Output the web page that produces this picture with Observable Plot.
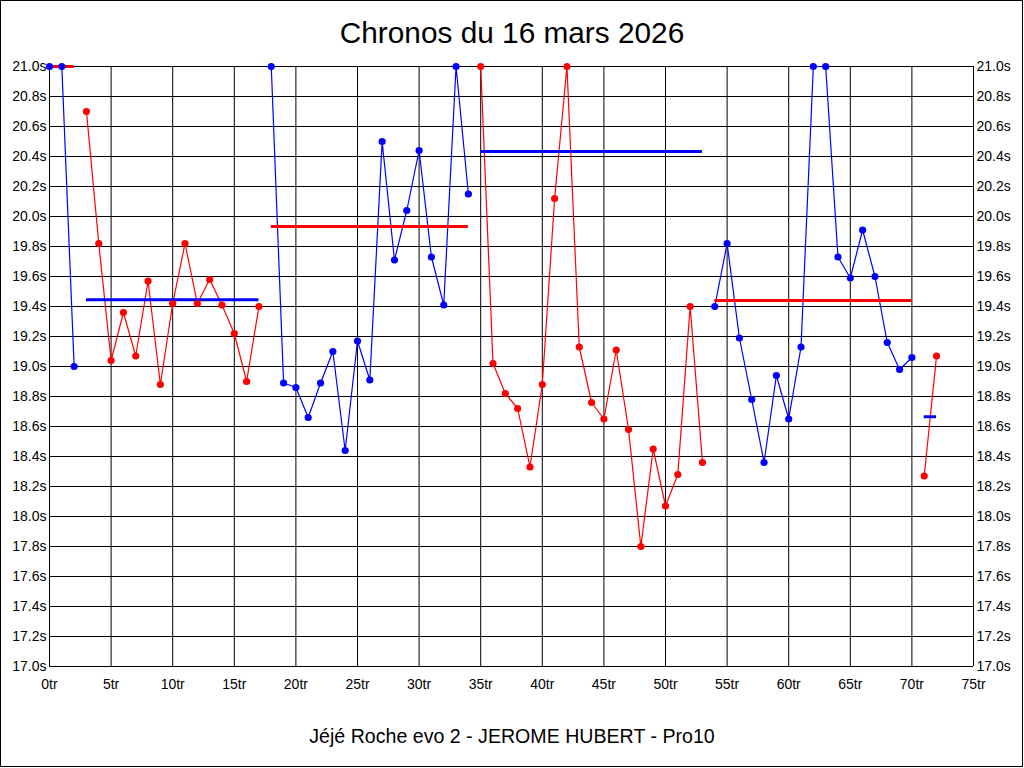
<!DOCTYPE html>
<html><head><meta charset="utf-8">
<script src="https://cdn.jsdelivr.net/npm/d3@7"></script>
<script src="https://cdn.jsdelivr.net/npm/@observablehq/plot@0.6"></script>
<style>
body{margin:0;background:#fff;font-family:"Liberation Sans",Arial,sans-serif;}
#wrap{position:relative;width:1024px;height:768px;overflow:hidden;background:#fff}
#frame{position:absolute;left:0;top:0;width:1023px;height:767px;box-sizing:border-box;border:1px solid #000;pointer-events:none}
#title{height:50px;box-sizing:border-box;padding-top:18px;line-height:30px;font-size:29.8px;text-align:center;color:#000}
#sub{height:48px;box-sizing:border-box;padding-top:6px;line-height:20px;font-size:19.6px;text-align:center;color:#000}
#chart svg{display:block}
</style></head>
<body><div id="wrap"><div id="title">Chronos du 16 mars 2026</div><div id="chart"></div><div id="sub">Jéjé Roche evo 2 - JEROME HUBERT - Pro10</div><div id="frame"></div></div>
<script>
// Lap times (s), lap 0..72
const lapTimes = [
  21.0, 21.0, 19.0,
  20.70, 19.82, 19.04, 19.36, 19.07, 19.57, 18.88, 19.42, 19.82, 19.42, 19.58, 19.41, 19.22, 18.90, 19.40,
  21.0, 18.89, 18.86, 18.66, 18.89, 19.10, 18.44, 19.17, 18.91, 20.50, 19.71, 20.04, 20.44, 19.73, 19.41, 21.0, 20.15,
  21.0, 19.02, 18.82, 18.72, 18.33, 18.88, 20.12, 21.0, 19.13, 18.76, 18.65, 19.11, 18.58, 17.80, 18.45, 18.07, 18.28, 19.40, 18.36,
  19.40, 19.82, 19.19, 18.78, 18.36, 18.94, 18.65, 19.13, 21.0, 21.0, 19.73, 19.59, 19.91, 19.60, 19.16, 18.98, 19.06,
  18.27, 19.07
];
// Stints (first lap, last lap, mean time)
const stintStart = [0, 3, 18, 35, 54, 71];
const stintEnd   = [2, 17, 34, 53, 70, 72];
const stintMean  = [21.0, 19.445, 19.933, 20.433, 19.44, 18.665];
// Axis ticks
const xTicks = [0, 5, 10, 15, 20, 25, 30, 35, 40, 45, 50, 55, 60, 65, 70, 75];
const yTicks = [17.0, 17.2, 17.4, 17.6, 17.8, 18.0, 18.2, 18.4, 18.6, 18.8, 19.0, 19.2, 19.4, 19.6, 19.8, 20.0, 20.2, 20.4, 20.6, 20.8, 21.0];

const palette = ["#0000ff", "#ff0000"];

const stints = stintStart.map((s, i) => ({stint: i, start: s, end: stintEnd[i], mean: stintMean[i]}));
const rows = lapTimes.map((t, lap) => ({
  lap, time: t,
  stint: stints.findIndex(s => lap >= s.start && lap <= s.end)
}));

const fontFamily = "'Liberation Sans', Arial, sans-serif";
const chart = Plot.plot({
  width: 1024, height: 670,
  marginLeft: 49, marginRight: 51, marginTop: 16, marginBottom: 54,
  style: {fontFamily, fontSize: "14px", background: "white", color: "black", overflow: "visible"},
  x: {domain: [0, 75]},
  y: {domain: [17, 21]},
  color: {type: "identity"},
  marks: [
    Plot.ruleX(xTicks, {stroke: "black", strokeWidth: 1}),
    Plot.ruleY(yTicks, {stroke: "black", strokeWidth: 1}),
    Plot.axisX({ticks: xTicks, tickSize: 0, tickPadding: 13, tickFormat: d => d + "tr", label: null, fontSize: 14, fill: "black"}),
    Plot.axisY({anchor: "left", ticks: yTicks, tickSize: 0, tickPadding: 3, tickFormat: d => d.toFixed(1) + "s", label: null, fontSize: 14, fill: "black"}),
    Plot.axisY({anchor: "right", ticks: yTicks, tickSize: 0, tickPadding: 3, tickFormat: d => d.toFixed(1) + "s", label: null, fontSize: 14, fill: "black"}),
    Plot.line(rows, {x: "lap", y: "time", z: "stint", stroke: d => palette[d.stint % 2], strokeWidth: 1.2}),
    Plot.ruleY(stints, {y: "mean", x1: "start", x2: "end", stroke: d => palette[(d.stint + 1) % 2], strokeWidth: 3}),
    Plot.dot(rows, {x: "lap", y: "time", r: 3.6, fill: d => palette[d.stint % 2], stroke: "none"})
  ]
});
document.getElementById("chart").appendChild(chart);
</script>
</body></html>
